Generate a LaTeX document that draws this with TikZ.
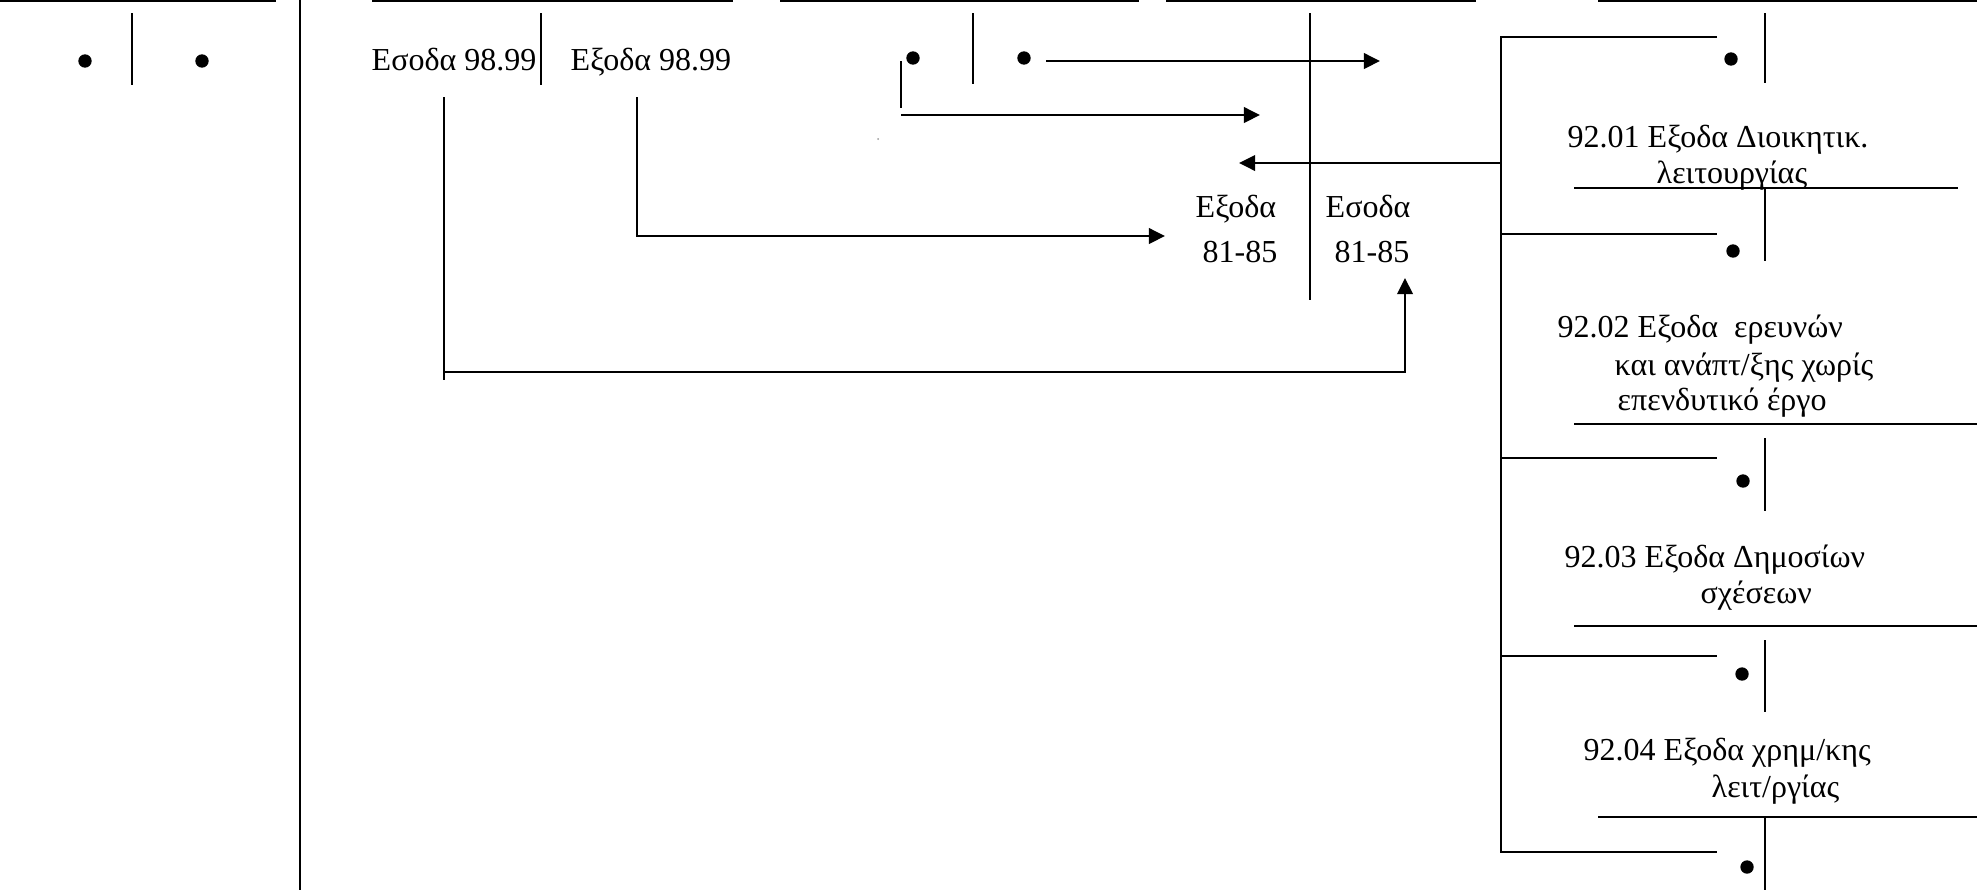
\documentclass[tikz,border=0pt]{standalone}
\usepackage{fontspec}
\setmainfont{Liberation Serif}
\usetikzlibrary{arrows.meta}
\begin{document}
\begin{tikzpicture}[x=0.01cm,y=-0.01cm,
  ln/.style={draw=black,line width=0.58pt},
  topln/.style={draw=black,line width=0.7pt},
  arr/.style={draw=black,line width=0.75pt,-{Triangle[length=4.6pt,width=4.4pt]}},
  bul/.style={circle,fill=black,inner sep=0pt,minimum size=3.8pt},
  lbl/.style={anchor=base west,inner sep=0pt,font=\fontsize{9.1pt}{10pt}\selectfont}]
\useasboundingbox (0,0) rectangle (1977,890);
% top rules
\draw[topln] (0,1) -- (276,1);
\draw[topln] (372,1) -- (733,1);
\draw[topln] (780,1) -- (1139,1);
\draw[topln] (1166,1) -- (1476,1);
\draw[topln] (1598,1) -- (1977,1);
% left block
\node[bul] (d1) at (85,61) {};
\node[bul] (d2) at (202,61) {};
\draw[ln] (132,13) -- (132,85);
\draw[ln] (300,0) -- (300,890);
% block 2
\node[lbl] (es98) at (371,70) {Εσοδα 98.99};
\node[lbl] (ex98) at (570,70) {Εξοδα 98.99};
\draw[ln] (541,13) -- (541,85);
\coordinate (a1s) at (444,97);
\coordinate (a1c) at (444,372);
\coordinate (a1e) at (444,380);
\coordinate (a1r) at (1405,372);
\coordinate (a1t) at (1405,278);
\draw[ln] (a1s) -- (a1e);
\draw[arr] (a1c) -- (a1r) -- (a1t);
\coordinate (a2s) at (637,97);
\coordinate (a2c) at (637,236);
\coordinate (a2t) at (1165,236);
\draw[arr] (a2s) -- (a2c) -- (a2t);
% block 3
\node[bul] (d3) at (913,58) {};
\node[bul] (d4) at (1024,58) {};
\draw[ln] (973,13) -- (973,84);
\draw[ln] (901,61) -- (901,108);
\coordinate (a3s) at (901,115);
\coordinate (a3t) at (1260,115);
\draw[arr] (a3s) -- (a3t);
\coordinate (a4s) at (1046,61);
\coordinate (a4t) at (1380,61);
\draw[arr] (a4s) -- (a4t);
\fill[black!40] (878,139) circle (1);
% block 4
\draw[ln] (1310,13) -- (1310,300);
\node[lbl] (ex81) at (1195,217) {Εξοδα};
\node[lbl] (ex81n) at (1202,262) {81-85};
\node[lbl] (es81) at (1325,217) {Εσοδα};
\node[lbl] (es81n) at (1334,262) {81-85};
\coordinate (a5s) at (1501,163);
\coordinate (a5t) at (1239,163);
\draw[arr] (a5s) -- (a5t);
% right column
\draw[ln] (1717,37) -- (1501,37) -- (1501,852) -- (1717,852);
\draw[ln] (1501,234) -- (1717,234);
\draw[ln] (1501,458) -- (1717,458);
\draw[ln] (1501,656) -- (1717,656);
\node[bul] (r1) at (1731,59) {};
\node[bul] (r2) at (1733,251) {};
\node[bul] (r3) at (1743,481) {};
\node[bul] (r4) at (1742,674) {};
\node[bul] (r5) at (1747,867) {};
\draw[ln] (1765,13) -- (1765,83);
\draw[ln] (1765,188) -- (1765,261);
\draw[ln] (1765,438) -- (1765,511);
\draw[ln] (1765,640) -- (1765,712);
\draw[ln] (1765,817) -- (1765,890);
\draw[ln] (1574,188) -- (1958,188);
\draw[ln] (1574,424) -- (1977,424);
\draw[ln] (1574,626) -- (1977,626);
\draw[ln] (1598,817) -- (1977,817);
\node[lbl] (t1a) at (1567,147) {92.01 Εξοδα Διοικητικ.};
\node[lbl] (t1b) at (1656,183) {λειτουργίας};
\node[lbl] (t2a) at (1557,337) {92.02 Εξοδα\ \ ερευνών};
\node[lbl] (t2b) at (1614,375) {και ανάπτ/ξης χωρίς};
\node[lbl] (t2c) at (1617,410) {επενδυτικό έργο};
\node[lbl] (t3a) at (1564,567) {92.03 Εξοδα Δημοσίων};
\node[lbl] (t3b) at (1700,603) {σχέσεων};
\node[lbl] (t4a) at (1583,760) {92.04 Εξοδα χρημ/κης};
\node[lbl] (t4b) at (1711,797) {λειτ/ργίας};
\end{tikzpicture}
\end{document}
